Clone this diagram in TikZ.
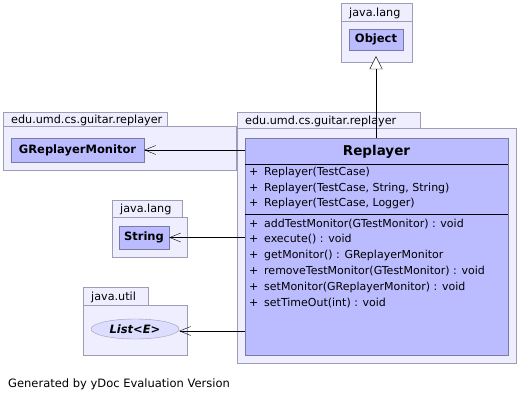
\documentclass[tikz,border=0pt]{standalone}
\usepackage{fontspec}
\setmainfont{DejaVu Sans}
\usetikzlibrary{arrows.meta,positioning,shapes.geometric}
\definecolor{pkgfill}{HTML}{EEEEFF}
\definecolor{pkgline}{HTML}{9D9DB5}
\definecolor{clsfill}{HTML}{BBBBFF}
\definecolor{clsline}{HTML}{7A7AA8}
\definecolor{ifcfill}{HTML}{DDDDFF}

\begin{document}
\begin{tikzpicture}[x=1pt,y=-1pt,
    pkgtab/.style={draw=pkgline,fill=pkgfill,anchor=north west,inner ysep=0pt,inner xsep=8pt,
      align=left,font=\fontsize{11.2}{12}\selectfont,text depth=0pt},
    pkgbody/.style={draw=pkgline,fill=pkgfill},
    classbox/.style={draw=clsline,fill=clsfill,inner sep=0pt,
      font=\bfseries\fontsize{11.5}{13}\selectfont},
    member/.style={anchor=west,inner sep=0pt,font=\fontsize{11}{13}\selectfont},
    uses/.style={-{Straight Barb[length=11pt,width=9pt]},thin},
    extends/.style={-{Triangle[open,length=13pt,width=13pt,fill=white]},thin}]
  \useasboundingbox (0,0) rectangle (518,401);
  % packages: tab and body
  \filldraw[pkgbody] (341,21) rectangle (412,62);
  \node[pkgtab,text width=55pt,minimum height=18pt] (tablang) at (341,3) {java.lang};
  \filldraw[pkgbody] (3,126) rectangle (236,170);
  \node[pkgtab,text width=148pt,minimum height=14pt] (tabguitar) at (3,112) {edu.umd.cs.guitar.replayer};
  \filldraw[pkgbody] (237,128) rectangle (516,363);
  \node[pkgtab,text width=167pt,minimum height=16pt] (tabreplayer) at (237,112) {edu.umd.cs.guitar.replayer};
  \filldraw[pkgbody] (112,217) rectangle (187,257);
  \node[pkgtab,text width=54pt,minimum height=17pt] (tabstring) at (112,200) {java.lang};
  \filldraw[pkgbody] (83,305) rectangle (187,355);
  \node[pkgtab,text width=49pt,minimum height=18pt] (tabutil) at (83,287) {java.util};
  % classes
  \node[classbox,minimum width=54pt,minimum height=21pt] (obj) at (376,39.5) {Object};
  \node[classbox,minimum width=133pt,minimum height=24pt] (mon) at (77.5,150) {GReplayerMonitor};
  \node[classbox,minimum width=50pt,minimum height=23pt] (str) at (144,237.5) {String};
  \node[ellipse,draw=pkgline,fill=ifcfill,inner sep=0pt,minimum width=88pt,minimum height=20pt,
    font=\bfseries\itshape\fontsize{11.5}{13}\selectfont] (lst) at (135,329) {List<E>};
  \node[classbox,minimum width=263pt,minimum height=217pt] (rep) at (376.5,246.5) {};
  \node[font=\bfseries\fontsize{13.5}{16}\selectfont,inner sep=0pt] (title) at (376.5,152) {Replayer};
  \draw (rep.west |- 0,164) -- (rep.east |- 0,164);
  \draw (rep.west |- 0,214) -- (rep.east |- 0,214);
  % constructors and methods
  \foreach \y/\t in {172.5/{Replayer(TestCase)}, 188/{Replayer(TestCase, String, String)},
      203.5/{Replayer(TestCase, Logger)}, 224/{addTestMonitor(GTestMonitor) : void},
      239.5/{execute() : void}, 255/{getMonitor() : GReplayerMonitor},
      271/{removeTestMonitor(GTestMonitor) : void}, 287/{setMonitor(GReplayerMonitor) : void},
      303/{setTimeOut(int) : void}} {
    \node[member] at (249,\y) {+};
    \node[member] at (264,\y) {\t};
  }
  % connectors
  \draw[extends] (rep.north -| obj.south) -- ([yshift=-6pt]obj.south);
  \draw[uses] (mon.east -| rep.west) -- (mon.east);
  \draw[uses] (str.east -| rep.west) -- (str.east);
  \draw[uses] ([yshift=-2pt]lst.east -| rep.west) -- ([yshift=-2pt]lst.east);
  \node[anchor=west,inner sep=0pt,font=\fontsize{11.5}{13}\selectfont] (footer) at (8,384) {Generated by yDoc Evaluation Version};
\end{tikzpicture}
\end{document}
